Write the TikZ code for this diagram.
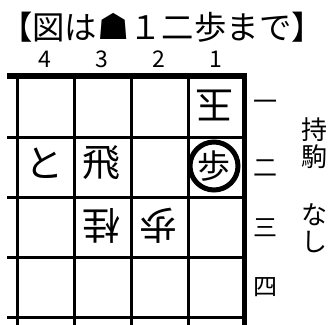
\documentclass[tikz,border=0pt]{standalone}
\usepackage{fontspec}
\newfontfamily\jp{Noto Sans CJK JP}
\newfontfamily\dv{DejaVu Sans}
\begin{document}
\begin{tikzpicture}[x=1pt,y=-1pt,
  thinline/.style={line width=3pt},
  thickline/.style={line width=5.5pt},
  piece/.style={inner sep=0pt,font=\jp\fontsize{38}{38}\selectfont},
  gote/.style={piece,rotate=180},
  rowlab/.style={inner sep=0pt,font=\jp\fontsize{24}{24}\selectfont},
  collab/.style={inner sep=0pt,font=\jp\fontsize{23}{23}\selectfont,text height=16pt,text depth=0pt},
  handtxt/.style={inner sep=0pt,font=\jp\fontsize{26}{26}\selectfont}]
\clip (0,0) rectangle (328,324);
\fill[white] (0,0) rectangle (328,324);
% title
\node[inner sep=0pt,font=\jp\fontsize{32.4}{32.4}\selectfont,text height=26pt,text depth=2pt] (title) at (162,27)
  {【図は{\dv\fontsize{36}{36}\selectfont ☗}１二歩まで】};
% column numbers
\node[collab] (c4) at (45,59) {4};
\node[collab] (c3) at (102,59) {3};
\node[collab] (c2) at (159,59) {2};
\node[collab] (c1) at (216,59) {1};
% grid
\foreach \x in {17,74,131,188} \draw[thinline] (\x,76) -- (\x,330);
\foreach \y in {137.5,197.5,257.5,317} \draw[thinline] (7,\y) -- (244,\y);
\draw[thickline] (7,76) -- (247,76);
\draw[thickline] (244.5,73) -- (244.5,330);
% row labels
\node[rowlab] (r1) at (265,105) {一};
\node[rowlab] (r2) at (265,168) {二};
\node[rowlab] (r3) at (265,228) {三};
\node[rowlab] (r4) at (265,287) {四};
% pieces
\node[gote] (k11) at (214,105) {玉};
\node[draw,circle,line width=5pt,minimum size=48pt,inner sep=0pt] (ring) at (214,166) {};
\node[piece,font=\jp\fontsize{33}{33}\selectfont] (p12) at (214,166) {歩};
\node[piece] (r32) at (101,163) {飛};
\node[piece] (t42) at (44,163) {と};
\node[gote] (n33) at (101,226) {桂};
\node[gote] (p23) at (158,226) {歩};
% hands
\node[handtxt] (h1) at (314,130) {持};
\node[handtxt] (h2) at (314,157) {駒};
\node[handtxt] (h3) at (314,215) {な};
\node[handtxt] (h4) at (314,242) {し};
\end{tikzpicture}
\end{document}
